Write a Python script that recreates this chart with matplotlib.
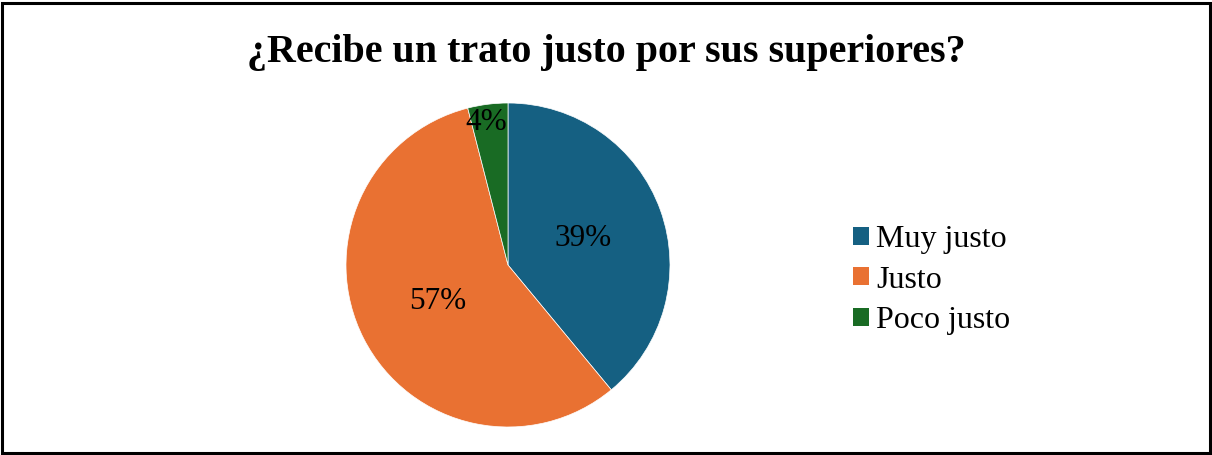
import matplotlib
matplotlib.use("Agg")
import matplotlib.pyplot as plt
from matplotlib.patches import Rectangle, Patch
import numpy as np

categories = ["Muy justo", "Justo", "Poco justo"]
values = [39, 57, 4]
colors = ["#156082", "#E97132", "#196B24"]
title = "¿Recibe un trato justo por sus superiores?"

plt.rcParams['font.family'] = ['Liberation Serif', 'DejaVu Serif']

W, H = 1212, 455
fig = plt.figure(figsize=(W / 100, H / 100), dpi=100)

cx, cy, r = 508, 265, 162
ax = fig.add_axes([(cx - r) / W, (H - cy - r) / H, 2 * r / W, 2 * r / H])
wedges, texts, autotexts = ax.pie(values, colors=colors, startangle=90, counterclock=False,
                                  autopct='%1.0f%%', pctdistance=0.49,
                                  textprops={'fontsize': 22.5, 'color': 'black'},
                                  wedgeprops={'linewidth': 0.5, 'edgecolor': 'white'})
# small slice label placed further out (as in original)
w = wedges[2]
ang = np.deg2rad((w.theta1 + w.theta2) / 2 + 1.5)
autotexts[2].set_position((0.89 * np.cos(ang), 0.89 * np.sin(ang)))
ax.set_xlim(-1, 1)
ax.set_ylim(-1, 1)
ax.set_aspect('auto')
ax.axis('off')

fig.text(0.5, 1 - 62 / H, title, ha='center', va='baseline', fontsize=28.8, fontweight='bold')

handles = [Patch(facecolor=c, edgecolor='none') for c in colors]
fig.legend(handles, categories, loc='center left', bbox_to_anchor=(853 / W, 1 - 280 / H),
           frameon=False, fontsize=23, handlelength=0.5, handleheight=0.5,
           handletextpad=0.22, labelspacing=0.36, borderpad=0, borderaxespad=0)

fig.add_artist(Rectangle((1.5 / W, 2.0 / H), 1208 / W, 450 / H, transform=fig.transFigure,
                         fill=False, edgecolor='black', linewidth=2.2))

fig.savefig("out.png", dpi=100)
